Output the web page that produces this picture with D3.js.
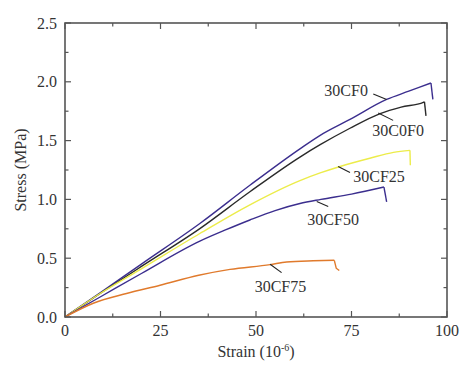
<!DOCTYPE html>
<html>
<head>
<meta charset="utf-8">
<script src="https://cdn.jsdelivr.net/npm/d3@7"></script>
<style>
html,body{margin:0;padding:0;background:#fff;}
svg{display:block;}
text{font-family:"Liberation Serif","Times New Roman",serif;fill:#333;}
</style>
</head>
<body>
<svg id="chart" width="474" height="379"></svg>
<script>
// ---- Data ----
const seriesNames = ["30CF0", "30C0F0", "30CF25", "30CF50", "30CF75"];
const strainCF0   = [0, 9.2, 20, 35.3, 48.4, 61.5, 66.8, 74.6, 84.2, 90, 95.8, 96.3];
const stressCF0   = [0, 0.205, 0.45, 0.795, 1.12, 1.43, 1.545, 1.68, 1.85, 1.92, 1.99, 1.85];
const strainC0F0  = [0, 9.2, 20, 35.3, 48.4, 61.5, 66.8, 74.6, 82.5, 88, 93.8, 94.1, 94.5];
const stressC0F0  = [0, 0.2, 0.43, 0.752, 1.065, 1.36, 1.465, 1.605, 1.73, 1.785, 1.825, 1.83, 1.71];
const strainCF25  = [0, 9.2, 20, 35.3, 48.4, 61.5, 66.8, 72, 79.8, 86, 90.3, 90.4];
const stressCF25  = [0, 0.2, 0.41, 0.71, 0.954, 1.16, 1.225, 1.28, 1.35, 1.4, 1.417, 1.29];
const strainCF50  = [0, 9.2, 20, 35.3, 42, 48.4, 55, 61.5, 67, 75, 83.5, 84.2];
const stressCF50  = [0, 0.17, 0.37, 0.645, 0.74, 0.825, 0.905, 0.965, 1.0, 1.045, 1.105, 0.98];
const strainCF75  = [0, 7.4, 16.1, 24.9, 35, 43.2, 53.7, 58, 65, 70.5, 71, 71.8];
const stressCF75  = [0, 0.117, 0.2, 0.27, 0.355, 0.405, 0.445, 0.468, 0.478, 0.482, 0.415, 0.395];
const xTickValues = [0, 25, 50, 75, 100];
const yTickValues = [0.0, 0.5, 1.0, 1.5, 2.0, 2.5];
const yTickLabels = ["0.0", "0.5", "1.0", "1.5", "2.0", "2.5"];

// ---- Layout / style ----
const W = 474, H = 379;
const margin = {left: 65, right: 27, top: 23, bottom: 62};
const colors = ["#3b2e8e", "#2a2a2a", "#ecec4a", "#3b2e8e", "#e07a2c"];
// annotation positions (data units): text center/baseline, leader start/end
const annot = [
  {t: "30CF0",  tx: 73.6, ty: 1.878, x1: 80.7, y1: 1.897, x2: 84.2, y2: 1.85},
  {t: "30C0F0", tx: 87.2, ty: 1.542, x1: 82.0, y1: 1.735, x2: 85.9, y2: 1.672},
  {t: "30CF25", tx: 82.2, ty: 1.144, x1: 71.5, y1: 1.28,  x2: 74.6, y2: 1.229},
  {t: "30CF50", tx: 70.2, ty: 0.784, x1: 65.9, y1: 0.982, x2: 68.9, y2: 0.94},
  {t: "30CF75", tx: 56.4, ty: 0.215, x1: 53.7, y1: 0.449, x2: 56.7, y2: 0.377}
];

const series = [
  {name: seriesNames[0], x: strainCF0,  y: stressCF0},
  {name: seriesNames[1], x: strainC0F0, y: stressC0F0},
  {name: seriesNames[2], x: strainCF25, y: stressCF25},
  {name: seriesNames[3], x: strainCF50, y: stressCF50},
  {name: seriesNames[4], x: strainCF75, y: stressCF75}
];

const svg = d3.select("#chart");
const x = d3.scaleLinear().domain([0, 100]).range([margin.left, W - margin.right]);
const y = d3.scaleLinear().domain([0, 2.5]).range([H - margin.bottom, margin.top]);

const axisColor = "#555";
const fs = 16;

// minor + major ticks (inward) on all four sides
const xMinor = d3.range(0, 100.01, 12.5);
const yMinor = d3.range(0, 2.501, 0.25);
const gT = svg.append("g").attr("stroke", axisColor).attr("stroke-width", 1.2);
xMinor.forEach(v => {
  const major = Math.abs(v % 25) < 1e-6;
  const L = major ? 6 : 3.5;
  gT.append("line").attr("x1", x(v)).attr("x2", x(v)).attr("y1", y(0)).attr("y2", y(0) - L);
  gT.append("line").attr("x1", x(v)).attr("x2", x(v)).attr("y1", y(2.5)).attr("y2", y(2.5) + L);
});
yMinor.forEach(v => {
  const major = Math.abs((v / 0.5) - Math.round(v / 0.5)) < 1e-6;
  const L = major ? 6 : 3.5;
  gT.append("line").attr("y1", y(v)).attr("y2", y(v)).attr("x1", x(0)).attr("x2", x(0) + L);
  gT.append("line").attr("y1", y(v)).attr("y2", y(v)).attr("x1", x(100)).attr("x2", x(100) - L);
});

// curves: smooth rising part, straight final drop
const smooth = d3.line().x(d => x(d[0])).y(d => y(d[1])).curveMonotoneX ? null : null;
const lineSmooth = d3.line().x(d => x(d[0])).y(d => y(d[1])).curve(d3.curveMonotoneX);
const lineStraight = d3.line().x(d => x(d[0])).y(d => y(d[1]));
series.forEach((s, i) => {
  const pts = s.x.map((v, k) => [v, s.y[k]]);
  // index of peak
  let pk = 0;
  pts.forEach((p, k) => { if (p[1] >= pts[pk][1]) pk = k; });
  const rise = pts.slice(0, pk + 1);
  const drop = pts.slice(pk);
  svg.append("path").datum(rise).attr("d", lineSmooth)
    .attr("fill", "none").attr("stroke", colors[i]).attr("stroke-width", 1.4)
    .attr("stroke-linejoin", "round");
  svg.append("path").datum(drop).attr("d", lineStraight)
    .attr("fill", "none").attr("stroke", colors[i]).attr("stroke-width", 1.4)
    .attr("stroke-linejoin", "round");
});

// frame
svg.append("rect").attr("x", x(0)).attr("y", y(2.5))
  .attr("width", x(100) - x(0)).attr("height", y(0) - y(2.5))
  .attr("fill", "none").attr("stroke", axisColor).attr("stroke-width", 1.6);

// tick labels
xTickValues.forEach(v => {
  svg.append("text").attr("x", x(v)).attr("y", y(0) + 19)
    .attr("text-anchor", "middle").attr("font-size", fs).text(v);
});
yTickValues.forEach((v, i) => {
  svg.append("text").attr("x", x(0) - 8).attr("y", y(v) + 5.5)
    .attr("text-anchor", "end").attr("font-size", fs).text(yTickLabels[i]);
});

// axis titles
const xt = svg.append("text").attr("x", x(50)).attr("y", H - 22)
  .attr("text-anchor", "middle").attr("font-size", fs);
xt.append("tspan").text("Strain (10");
xt.append("tspan").attr("font-size", 10).attr("dy", -6).text("-6");
xt.append("tspan").attr("dy", 6).text(")");

svg.append("text")
  .attr("transform", `translate(${x(0) - 39},${(y(0) + y(2.5)) / 2}) rotate(-90)`)
  .attr("text-anchor", "middle").attr("font-size", fs).text("Stress (MPa)");

// annotations
annot.forEach(a => {
  svg.append("line").attr("x1", x(a.x1)).attr("y1", y(a.y1)).attr("x2", x(a.x2)).attr("y2", y(a.y2))
    .attr("stroke", "#222").attr("stroke-width", 1.1);
  svg.append("text").attr("x", x(a.tx)).attr("y", y(a.ty))
    .attr("text-anchor", "middle").attr("font-size", fs).text(a.t);
});
</script>
</body>
</html>
